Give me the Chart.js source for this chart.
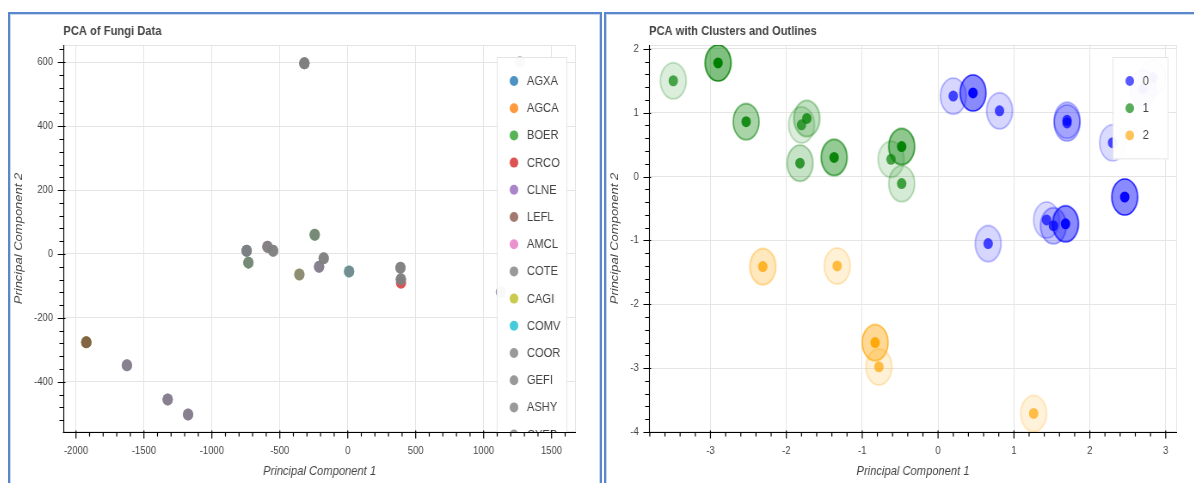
<!DOCTYPE html>
<html>
<head>
<meta charset="utf-8">
<script src="https://cdn.jsdelivr.net/npm/chart.js@4.4.1/dist/chart.umd.min.js"></script>
<style>
  html, body { margin: 0; padding: 0; background: #fff; width: 1194px; height: 483px; overflow: hidden; }
  .panel { position: absolute; top: 12px; border: 2px solid #5a87cb; box-shadow: inset 0 0 0 1px #c9d8ef; box-sizing: border-box; }
  #p1 { left: 8px; width: 594px; height: 520px; }
  #p2 { left: 604px; width: 640px; height: 520px; }
  .plot { position: absolute; top: 14px; transform: scaleX(0.86); transform-origin: 0 0; }
  #c1 { left: 10px; }
  #c2 { left: 606px; }
</style>
</head>
<body>
<div class="panel" id="p1"></div>
<div class="panel" id="p2"></div>
<canvas id="c1" class="plot" width="686" height="469"></canvas>
<canvas id="c2" class="plot" width="684" height="469"></canvas>
<script>
// ---------- PCA of fungi data: scores per species ----------
const fungiTitle = 'PCA of Fungi Data';
const species = ['AGXA', 'AGCA', 'BOER', 'CRCO', 'CLNE', 'LEFL', 'AMCL', 'COTE', 'CAGI', 'COMV', 'COOR', 'GEFI', 'ASHY', 'CYEP'];
const speciesColors = ['#1f77b4', '#ff7f0e', '#2ca02c', '#d62728', '#9467bd', '#8c564b', '#e377c2', '#7f7f7f', '#bcbd22', '#17becf', '#7f7f7f', '#7f7f7f', '#7f7f7f', '#7f7f7f'];

const AGXA = [[-744, 10]];
const AGCA = [[-1924, -276]];
const BOER = [[-1924, -276], [-731, -27], [-243, 60]];
const CRCO = [[392, -90]];
const CLNE = [[-1625, -348], [-1325, -455], [-1175, -502], [-211, -40]];
const LEFL = [[-1924, -276]];
const AMCL = [[-591, 23]];
const COTE = [[-319, 597], [-1625, -348], [-1325, -455], [-1175, -502], [-744, 10], [-731, -27], [-549, 10], [-177, -13], [1267, 600]];
const CAGI = [[-356, -64]];
const COMV = [[10, -55]];
const COOR = [[-319, 597], [-744, 10], [-591, 23], [-243, 60], [-356, -64], [388, -43]];
const GEFI = [[-319, 597], [-591, 23], [-177, -13], [10, -55], [391, -79], [1127, -119]];
const ASHY = [[-549, 10], [-211, -40], [388, -43], [1495, -137]];
const CYEP = [[391, -79]];
const speciesScores = [AGXA, AGCA, BOER, CRCO, CLNE, LEFL, AMCL, COTE, CAGI, COMV, COOR, GEFI, ASHY, CYEP];

const fungiXMajor = [-2000, -1500, -1000, -500, 0, 500, 1000, 1500];
const fungiYMajor = [-400, -200, 0, 200, 400, 600];

// ---------- PCA with clusters: scores, cluster id, membership ----------
const clusterTitle = 'PCA with Clusters and Outlines';
const clusterNames = ['0', '1', '2'];
const clusterColors = [[0, 0, 255], [0, 128, 0], [255, 165, 0]];

const cluster0PC1 = [0.20, 0.46, 0.81, 0.66, 1.70, 1.70, 2.30, 2.46, 1.43, 1.52, 1.68, 2.83, 2.70];
const cluster0PC2 = [1.26, 1.31, 1.03, -1.05, 0.88, 0.84, 0.53, -0.32, -0.68, -0.77, -0.74, 1.55, 1.38];
const cluster0Membership = [0.15, 0.9, 0.15, 0.15, 0.25, 0.25, 0.1, 0.9, 0.1, 0.3, 0.9, 0.1, 0.3];

const cluster1PC1 = [-3.49, -2.90, -2.53, -1.73, -1.80, -1.82, -1.37, -0.48, -0.62, -0.48];
const cluster1PC2 = [1.50, 1.78, 0.86, 0.91, 0.81, 0.21, 0.30, 0.47, 0.27, -0.11];
const cluster1Membership = [0.1, 1.0, 0.6, 0.35, 0.1, 0.3, 0.8, 0.85, 0.1, 0.15];

const cluster2PC1 = [-2.31, -1.33, -0.83, -0.78, 1.26];
const cluster2PC2 = [-1.41, -1.40, -2.60, -2.98, -3.71];
const cluster2Membership = [0.4, 0.15, 0.8, 0.15, 0.1];

const clusterXMajor = [-3, -2, -1, 0, 1, 2, 3];
const clusterYMajor = [-4, -3, -2, -1, 0, 1, 2];

// ---------- shared styling ----------
const FONT = "'Liberation Sans', Arial, Helvetica, sans-serif";
const TEXT = '#444444';
const GRID = '#e5e5e5';
const NONE = 'rgba(0,0,0,0)';

function hexRgb(h) { return [1, 3, 5].map(i => parseInt(h.slice(i, i + 2), 16)); }
function rgba(c, a) { return 'rgba(' + c[0] + ',' + c[1] + ',' + c[2] + ',' + a + ')'; }
function isMajor(v, step) { const q = v / step; return Math.abs(q - Math.round(q)) < 1e-6; }
function withMinors(major, parts) {
  const step = (major[1] - major[0]) / parts;
  const out = [];
  for (let k = -parts; k <= (major.length) * parts; k++) out.push(Math.round((major[0] + k * step) * 1e6) / 1e6);
  return out;
}

function axisOptions(majors, parts, min, max, title, isX, fitSize) {
  const step = majors[1] - majors[0];
  const all = withMinors(majors, parts).filter(v => v >= min && v <= max);
  return {
    type: 'linear', min: min, max: max,
    position: isX ? 'bottom' : 'left',
    afterBuildTicks: s => { s.ticks = all.map(v => ({ value: v })); },
    afterFit: s => { if (isX) s.height = fitSize; else s.width = fitSize; },
    grid: { color: c => (c.tick && isMajor(c.tick.value, step)) ? GRID : NONE, lineWidth: 1, drawTicks: false },
    border: { display: false },
    ticks: {
      autoSkip: false, maxRotation: 0, minRotation: 0,
      padding: 12,
      color: TEXT, font: { family: FONT, size: 11 },
      callback: v => isMajor(v, step) ? String(Math.round(v)) : ''
    },
    title: {
      display: true, text: title, color: TEXT,
      font: { family: FONT, size: 13, style: 'italic' },
      padding: isX ? { top: 0, bottom: 4 } : { top: 3, bottom: 0 }
    }
  };
}

// frame outline, axis lines with major/minor tick marks, title and legend
function framePlugin(title, xMajor, yMajor, legendItems, legendWidth) {
  const xs = xMajor[1] - xMajor[0], ys = yMajor[1] - yMajor[0];
  return {
    id: 'frame',
    beforeDatasetsDraw(chart) {
      const { ctx, chartArea: a } = chart;
      ctx.save();
      ctx.strokeStyle = GRID; ctx.lineWidth = 1;
      ctx.strokeRect(a.left + 0.5, a.top + 0.5, a.right - a.left - 1, a.bottom - a.top - 1);
      ctx.restore();
    },
    afterDatasetsDraw(chart) {
      const { ctx, chartArea: a } = chart;
      const pad = 10, rowH = 27.2;
      const left = a.right - 10 - legendWidth, top = a.top + 12;
      const h = 48 + rowH * (legendItems.length - 1);
      ctx.save();
      ctx.beginPath(); ctx.rect(a.left, a.top, a.right - a.left, a.bottom - a.top); ctx.clip();
      ctx.fillStyle = 'rgba(255,255,255,0.95)';
      ctx.fillRect(left, top, legendWidth, h);
      ctx.strokeStyle = GRID; ctx.lineWidth = 1;
      ctx.strokeRect(left + 0.5, top + 0.5, legendWidth - 1, h - 1);
      ctx.font = '13px ' + FONT;
      ctx.textAlign = 'left'; ctx.textBaseline = 'middle';
      legendItems.forEach((it, i) => {
        const cy = top + 24 + rowH * i;
        ctx.beginPath(); ctx.arc(left + pad + 10, cy, 5, 0, Math.PI * 2);
        ctx.fillStyle = it.color; ctx.fill();
        ctx.fillStyle = TEXT; ctx.fillText(it.label, left + 35, cy + 0.5);
      });
      ctx.restore();
    },
    afterDraw(chart) {
      const { ctx, chartArea: a, scales } = chart;
      const bx = scales.x, by = scales.y;
      const yb = Math.round(a.bottom) + 0.5, xl = Math.round(a.left) + 0.5;
      ctx.save();
      ctx.strokeStyle = '#000'; ctx.lineWidth = 1.1;
      ctx.beginPath();
      ctx.moveTo(a.left - 0.5, yb); ctx.lineTo(a.right, yb);
      ctx.moveTo(xl, a.top); ctx.lineTo(xl, a.bottom + 0.5);
      ctx.stroke();
      ctx.lineWidth = 1.2;
      ctx.beginPath();
      bx.ticks.forEach(t => {
        const px = bx.getPixelForValue(t.value);
        const m = isMajor(t.value, xs);
        ctx.moveTo(px, yb - (m ? 2 : 0)); ctx.lineTo(px, yb + (m ? 6 : 4));
      });
      ctx.stroke();
      ctx.lineWidth = 1.1;
      ctx.beginPath();
      by.ticks.forEach(t => {
        const py = Math.round(by.getPixelForValue(t.value)) + 0.5;
        const m = isMajor(t.value, ys);
        ctx.moveTo(xl + (m ? 2 : 0), py); ctx.lineTo(xl - (m ? 7 : 5), py);
      });
      ctx.stroke();
      ctx.font = 'bold 13px ' + FONT;
      ctx.fillStyle = TEXT; ctx.textAlign = 'left'; ctx.textBaseline = 'middle';
      ctx.fillText(title, a.left, 17);
      ctx.restore();
    }
  };
}

// ---------- chart 1: species scatter ----------
const POINT_ALPHA = 0.8;
const fungiDatasets = species.map((name, i) => ({
  label: name,
  data: speciesScores[i].map(p => ({ x: p[0], y: p[1] })),
  backgroundColor: rgba(hexRgb(speciesColors[i]), POINT_ALPHA),
  borderWidth: 0,
  pointRadius: 6,
  order: species.length - i
}));

new Chart(document.getElementById('c1'), {
  type: 'scatter',
  data: { datasets: fungiDatasets },
  options: {
    responsive: false, animation: false, events: [],
    layout: { padding: { top: 31, right: 28, bottom: 0, left: 0 } },
    plugins: { legend: { display: false }, tooltip: { enabled: false } },
    scales: {
      x: axisOptions(fungiXMajor, 5, -2093, 1679, 'Principal Component 1', true, 51),
      y: axisOptions(fungiYMajor, 5, -557, 654, 'Principal Component 2', false, 62)
    }
  },
  plugins: [framePlugin(fungiTitle, fungiXMajor, fungiYMajor,
    species.map((s, i) => ({ label: s, color: rgba(hexRgb(speciesColors[i]), POINT_ALPHA) })), 82)]
});

// ---------- chart 2: clusters with outline ellipses ----------
const ELL_W = 30, ELL_H = 36;
const spriteCache = {};
function outlineSprite(rgb, m) {
  const key = rgb.join('-') + ':' + m;
  if (spriteCache[key]) return spriteCache[key];
  const c = document.createElement('canvas');
  c.width = ELL_W + 4; c.height = ELL_H + 4;
  const g = c.getContext('2d');
  g.beginPath();
  g.ellipse(c.width / 2, c.height / 2, ELL_W / 2, ELL_H / 2, 0, 0, Math.PI * 2);
  g.fillStyle = rgba(rgb, 0.1 + 0.4 * m); g.fill();
  g.lineWidth = 1.6; g.strokeStyle = rgba(rgb, 0.22 + 0.68 * m); g.stroke();
  spriteCache[key] = c;
  return c;
}

const clusterPC1 = [cluster0PC1, cluster1PC1, cluster2PC1];
const clusterPC2 = [cluster0PC2, cluster1PC2, cluster2PC2];
const clusterMembership = [cluster0Membership, cluster1Membership, cluster2Membership];

const clusterDatasets = [];
clusterNames.forEach((name, k) => {
  const pts = clusterPC1[k].map((x, i) => ({ x: x, y: clusterPC2[k][i] }));
  const mem = clusterMembership[k];
  const rgb = clusterColors[k];
  clusterDatasets.push({
    label: name + ' outline',
    data: pts,
    pointStyle: c => outlineSprite(rgb, mem[c.dataIndex]),
    pointRadius: ELL_H / 2,
    borderWidth: 0,
    order: 20 - k
  });
});
clusterNames.forEach((name, k) => {
  const pts = clusterPC1[k].map((x, i) => ({ x: x, y: clusterPC2[k][i] }));
  const mem = clusterMembership[k];
  const rgb = clusterColors[k];
  clusterDatasets.push({
    label: name,
    data: pts,
    backgroundColor: c => rgba(rgb, 0.65 + 0.35 * mem[c.dataIndex]),
    borderWidth: 0,
    pointRadius: 5.5,
    order: 10 - k
  });
});

new Chart(document.getElementById('c2'), {
  type: 'scatter',
  data: { datasets: clusterDatasets },
  options: {
    responsive: false, animation: false, events: [],
    layout: { padding: { top: 31, right: 20, bottom: 0, left: 0 } },
    plugins: { legend: { display: false }, tooltip: { enabled: false } },
    scales: {
      x: axisOptions(clusterXMajor, 5, -3.81, 3.15, 'Principal Component 1', true, 51),
      y: axisOptions(clusterYMajor, 5, -4.0, 2.06, 'Principal Component 2', false, 50)
    }
  },
  plugins: [framePlugin(clusterTitle, clusterXMajor, clusterYMajor,
    clusterNames.map((s, k) => ({ label: s, color: rgba(clusterColors[k], 0.65) })), 65)]
});
</script>
</body>
</html>
